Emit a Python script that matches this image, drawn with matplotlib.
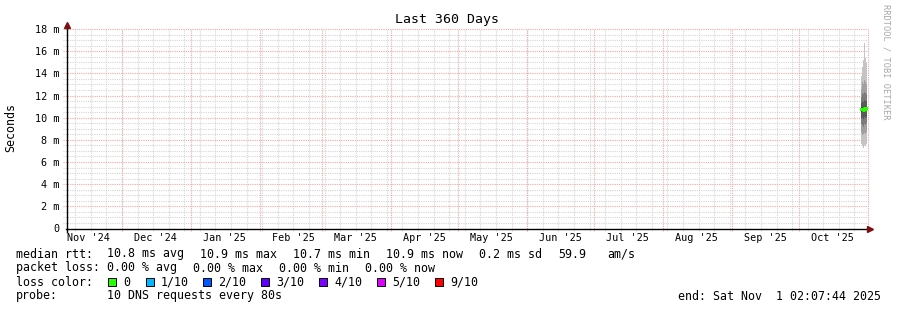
import matplotlib
matplotlib.use("Agg")
import matplotlib.pyplot as plt
from matplotlib.patches import Rectangle
from datetime import datetime, timedelta
import numpy as np

W, H = 897, 310
MONO = "DejaVu Sans Mono"

# --- donnees ---
t_start = datetime(2024, 11, 6, 2, 7, 44)
t_end = datetime(2025, 11, 1, 2, 7, 44)

month_labels = ["Nov '24", "Dec '24", "Jan '25", "Feb '25", "Mar '25", "Apr '25",
                "May '25", "Jun '25", "Jul '25", "Aug '25", "Sep '25", "Oct '25"]
month_ym = [(2024, 11), (2024, 12), (2025, 1), (2025, 2), (2025, 3), (2025, 4),
            (2025, 5), (2025, 6), (2025, 7), (2025, 8), (2025, 9), (2025, 10)]

y_ticks = [0, 2, 4, 6, 8, 10, 12, 14, 16, 18]
y_labels = ["0", "2 m", "4 m", "6 m", "8 m", "10 m", "12 m", "14 m", "16 m", "18 m"]

# tranches de temps de la fumee (dernier element = fin de la derniere tranche)
slot_edges = ["2025-10-28 22:00", "2025-10-29 09:00", "2025-10-29 20:00",
              "2025-10-30 07:00", "2025-10-30 18:00", "2025-10-31 05:00",
              "2025-10-31 16:00"]
# 10 pings tries par tranche (ms)
pings = [
    [7.6, 8.6, 9.4, 10.0, 10.5, 10.9, 11.3, 11.9, 12.6, 13.8],
    [7.4, 8.4, 9.3, 10.0, 10.6, 11.0, 11.5, 12.2, 13.2, 14.6],
    [7.3, 8.5, 9.2, 9.9, 10.5, 10.9, 11.4, 12.1, 13.0, 15.2],
    [7.5, 8.6, 9.4, 10.1, 10.6, 11.0, 11.6, 12.3, 13.4, 16.7],
    [7.4, 8.5, 9.3, 10.0, 10.6, 10.9, 11.5, 12.2, 13.2, 15.4],
    [7.6, 8.7, 9.5, 10.1, 10.7, 11.0, 11.5, 12.1, 13.0, 14.9],
]
median = [10.8, 10.8, 10.7, 10.9, 10.8, 10.9]

rtt_line = [("median rtt:", 16), ("10.8 ms avg", 107), ("10.9 ms max", 200),
            ("10.7 ms min", 293), ("10.9 ms now", 386), ("0.2 ms sd", 479),
            ("59.9", 558), ("am/s", 607)]
loss_line = [("packet loss:", 16), ("0.00 % avg", 107), ("0.00 % max", 193),
             ("0.00 % min", 279), ("0.00 % now", 365)]
loss_names = ["0", "1/10", "2/10", "3/10", "4/10", "5/10", "9/10"]
loss_colors = ["#26ff00", "#00b8ff", "#0059ff", "#5e00ff", "#7e00ff", "#dd00ff", "#ff0000"]
loss_box_x = [108, 146, 203, 261, 319, 377, 435]
probe_text = "10 DNS requests every 80s"
end_text = "end: Sat Nov  1 02:07:44 2025"

smoke_shades = ["#c4c4c4", "#a0a0a0", "#7c7c7c", "#585858", "#343434"]

# --- figure ---
fig = plt.figure(figsize=(W / 100, H / 100), dpi=100)
x0, x1, ytop, ybot = 66.5, 868, 29, 228.5
ax = fig.add_axes([x0 / W, 1 - ybot / H, (x1 - x0) / W, (ybot - ytop) / H])
ax.set_xlim(t_start, t_end)
ax.set_ylim(0, 18)
ax.set_facecolor("white")

for s in ["top", "right", "left", "bottom"]:
    ax.spines[s].set_visible(False)

dot = (0, (1, 1))
ext_y = 0.2  # ~2 px
ext_x = timedelta(days=1.5)
RED = "#f4a8a8"
GREY = "#d6d6d6"

# grille mineure horizontale (0.5 m) et majeure (2 m)
for v in np.arange(0.5, 18.01, 0.5):
    major = abs(v / 2 - round(v / 2)) < 1e-6
    ax.plot([t_start - ext_x, t_end], [v, v], color=RED if major else GREY,
            lw=0.8, ls=dot, clip_on=False, zorder=1 if major else 0.5)

# grille verticale : semaines (dimanche) et mois
d = datetime(2024, 11, 10)
while d < t_end:
    ax.plot([d, d], [-ext_y, 18], color=GREY, lw=0.8, ls=dot, clip_on=False, zorder=0.5)
    d += timedelta(days=7)
for (yy, mm) in month_ym[1:] + [(2025, 11)]:
    d = datetime(yy, mm, 1)
    ax.plot([d, d], [-ext_y, 18], color=RED, lw=0.8, ls=dot, clip_on=False, zorder=1)

# fumee
edges = [datetime.strptime(s, "%Y-%m-%d %H:%M") for s in slot_edges]
p = np.array(pings)
half = p.shape[1] // 2
for i in range(half):
    lo = np.append(p[:, i], p[-1, i])
    hi = np.append(p[:, -1 - i], p[-1, -1 - i])
    ax.fill_between(edges, lo, hi, step="post", color=smoke_shades[i], lw=0, zorder=2)
med = np.append(median, median[-1])
ax.step(edges, med, where="post", color=loss_colors[0], lw=2.2, zorder=3)

# axes avec fleches
x_axis = t_start + timedelta(hours=4)
ax.plot([t_start, t_end], [0, 0], color="black", lw=1, clip_on=False, zorder=4)
ax.plot([x_axis, x_axis], [-0.3, 18.3], color="black", lw=1, clip_on=False, zorder=4)
ax.plot([t_end + timedelta(days=1)], [0], marker=">", color="#7a1010", ms=4.5,
        clip_on=False, zorder=5)
ax.plot([x_axis], [18.35], marker="^", color="#7a1010", ms=4.5,
        clip_on=False, zorder=5)

# graduations
ax.set_yticks(y_ticks)
ax.set_yticklabels(y_labels, fontfamily=MONO, fontsize=7.3)
ax.tick_params(axis="y", length=0, pad=5)
ax.set_xticks([datetime(yy, mm, 16) for (yy, mm) in month_ym])
ax.set_xticklabels(month_labels, fontfamily=MONO, fontsize=7.3)
ax.tick_params(axis="x", length=0, pad=3.5)

fig.text(11 / W, 1 - 127 / H, "Seconds", fontfamily=MONO, fontsize=8.4,
         rotation=90, ha="center", va="center")
fig.text(447 / W, 1 - 19 / H, "Last 360 Days", fontfamily=MONO, fontsize=9.5,
         ha="center", va="center")
fig.text(886 / W, 1 - 4 / H, "RRDTOOL / TOBI OETIKER", fontfamily=MONO, fontsize=6.2,
         color="#a8a8a8", rotation=270, ha="center", va="top")


def ftext(x, y, s, **kw):
    fig.text(x / W, 1 - y / H, s, fontfamily=MONO, fontsize=8.4, va="center", **kw)


for s, x in rtt_line:
    ftext(x, 254, s)
for s, x in loss_line:
    ftext(x, 268, s)
ftext(16, 282, "loss color:")
for name, col, bx in zip(loss_names, loss_colors, loss_box_x):
    fig.patches.append(Rectangle((bx / W, 1 - 286 / H), 8 / W, 8 / H, transform=fig.transFigure,
                                 facecolor=col, edgecolor="black", lw=0.7))
    ftext(bx + 15, 282, name)
ftext(16, 296, "probe:")
ftext(107, 296, probe_text)
ftext(881, 296, end_text, ha="right")

fig.savefig("out.png", dpi=100, facecolor="white")
